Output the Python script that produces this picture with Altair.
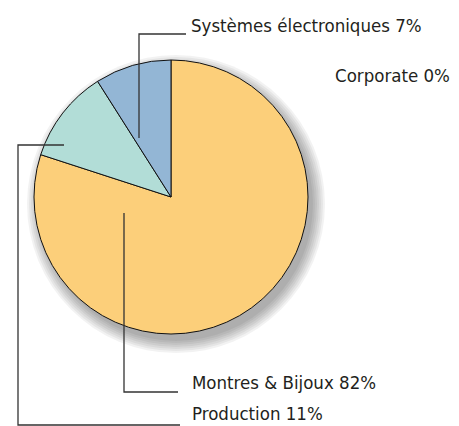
import math
import altair as alt
import pandas as pd

# Data
segments = ["Montres & Bijoux", "Production", "Systèmes électroniques"]
shares = [80.0, 11.0, 9.0]  # drawn angles
colors = ["#FCCF7A", "#B2DDD7", "#93B6D5"]
labels = ["Systèmes électroniques 7%", "Corporate 0%", "Montres & Bijoux 82%", "Production 11%"]
label_x = [183, 327, 184, 184]
label_y = [18, 68, 375, 406]

# leader lines (chart pixel coordinates)
line_group = ["s", "s", "s", "p", "p", "p", "p", "m", "m", "m"]
line_x = [131, 131, 178, 56, 10, 10, 172, 116, 116, 170]
line_y = [130, 26, 26, 137, 137, 417, 417, 205, 384, 384]

W, H = 443, 418
CX, CY, R = 163, 189, 137
FONT = "'DejaVu Sans Condensed', Roboto, sans-serif"

pie_df = pd.DataFrame({"segment": segments, "share": shares, "order": [0, 1, 2]})
lab_df = pd.DataFrame({"label": labels, "x": label_x, "y": label_y})
line_df = pd.DataFrame({"g": line_group, "x": line_x, "y": line_y, "o": list(range(len(line_x)))})

xs = alt.Scale(domain=[0, W], range=[0, W])
ys = alt.Scale(domain=[0, H], range=[0, H])

layers = []
for k in range(0, 14, 2):
    layers.append(
        alt.Chart(pd.DataFrame({"v": [1]})).mark_arc(
            outerRadius=R + k, theta=0, theta2=2 * math.pi,
            x=CX + 5, y=CY + 7, opacity=0.05,
        ).encode(color=alt.value("#000000"))
    )

pie = alt.Chart(pie_df).mark_arc(
    outerRadius=R, x=CX, y=CY, stroke="#111111", strokeWidth=1
).encode(
    theta=alt.Theta("share:Q", stack=True),
    order=alt.Order("order:Q"),
    color=alt.Color("segment:N", scale=alt.Scale(domain=segments, range=colors), legend=None),
)

lines = alt.Chart(line_df).mark_line(color="#333333", strokeWidth=1.3).encode(
    x=alt.X("x:Q", scale=xs, axis=None),
    y=alt.Y("y:Q", scale=ys, axis=None),
    detail="g:N",
    order="o:Q",
)

text = alt.Chart(lab_df).mark_text(
    align="left", baseline="middle", font=FONT, fontSize=18.5, color="#231F20"
).encode(
    x=alt.X("x:Q", scale=xs, axis=None),
    y=alt.Y("y:Q", scale=ys, axis=None),
    text="label:N",
)

chart = alt.layer(*layers, pie, lines, text).properties(
    width=W, height=H, padding=0, autosize=alt.AutoSizeParams(type="none")
).configure_view(stroke=None).resolve_scale(theta="independent")

chart.save("out.html", embed_options={"renderer": "svg", "actions": False})
